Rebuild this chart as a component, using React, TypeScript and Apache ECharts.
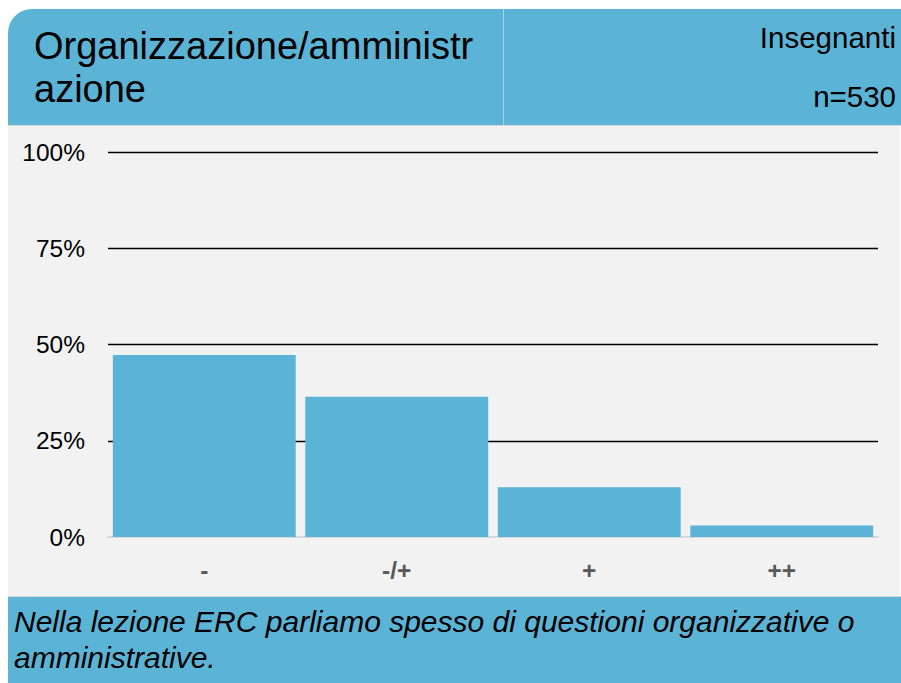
import React, { useEffect, useRef } from "react";
import * as echarts from "echarts";

const categories: string[] = ["-", "-/+", "+", "++"];
const values: number[] = [47.3, 36.4, 12.9, 3.0];
const yTicks: number[] = [0, 25, 50, 75, 100];
const titleLines: string[] = ["Organizzazione/amministr", "azione"];
const groupLabel = "Insegnanti";
const sampleLabel = "n=530";
const footerLines: string[] = [
  "Nella lezione ERC parliamo spesso di questioni organizzative o",
  "amministrative.",
];

const BLUE = "#5BB3D6";
const GREY = "#F2F2F2";
const FONT = '"Liberation Sans", Arial, sans-serif';

export default function App() {
  const ref = useRef<HTMLDivElement>(null);

  useEffect(() => {
    if (!ref.current) return;
    const chart = echarts.init(ref.current, null, { renderer: "svg" });
    const option: any = {
      animation: false,
      backgroundColor: "#ffffff",
      grid: { left: 108, right: 23, top: 152, bottom: 146, containLabel: false },
      xAxis: {
        type: "category",
        data: categories,
        axisLine: { show: true, lineStyle: { color: "#D9D9D9", width: 2 } },
        axisTick: { show: false },
        axisLabel: {
          margin: 21,
          fontSize: 24.5,
          fontWeight: "bold",
          color: "#595959",
          fontFamily: FONT,
        },
      },
      yAxis: {
        type: "value",
        min: yTicks[0],
        max: yTicks[yTicks.length - 1],
        interval: 25,
        axisLine: { show: false },
        axisTick: { show: false },
        axisLabel: {
          margin: 23,
          fontSize: 24.5,
          color: "#000000",
          fontFamily: FONT,
          formatter: (v: number) => `${v}%`,
        },
        splitLine: {
          show: true,
          lineStyle: {
            color: ["transparent", "#000000", "#000000", "#000000", "#000000"],
            width: 1.4,
          },
        },
      },
      series: [
        {
          type: "bar",
          data: values,
          barCategoryGap: "5%",
          itemStyle: { color: BLUE },
          z: 3,
        },
      ],
      graphic: [
        {
          type: "rect",
          z: -10,
          shape: { x: 8, y: 125, width: 892, height: 472 },
          style: { fill: GREY },
        },
        {
          type: "rect",
          z: -10,
          shape: { x: 8, y: 9, width: 893, height: 116, r: [24, 0, 0, 0] },
          style: { fill: BLUE },
        },
        {
          type: "line",
          z: -9,
          shape: { x1: 503.5, y1: 9, x2: 503.5, y2: 125 },
          style: { stroke: "#A8D6EB", lineWidth: 1 },
        },
        {
          type: "line",
          z: -9,
          shape: { x1: 8, y1: 125.5, x2: 901, y2: 125.5 },
          style: { stroke: "#D6D6D6", lineWidth: 1 },
        },
        {
          type: "rect",
          z: -10,
          shape: { x: 8, y: 597, width: 893, height: 86 },
          style: { fill: BLUE },
        },
        {
          type: "line",
          z: -9,
          shape: { x1: 8, y1: 596.5, x2: 901, y2: 596.5 },
          style: { stroke: "#D6D6D6", lineWidth: 1 },
        },
        {
          type: "text",
          z: 10,
          x: 34,
          y: 45.8,
          style: {
            text: titleLines[0],
            fill: "#000",
            font: `38px ${FONT}`,
            textAlign: "left",
            textVerticalAlign: "middle",
          },
        },
        {
          type: "text",
          z: 10,
          x: 34,
          y: 88.5,
          style: {
            text: titleLines[1],
            fill: "#000",
            font: `38px ${FONT}`,
            textAlign: "left",
            textVerticalAlign: "middle",
          },
        },
        {
          type: "text",
          z: 10,
          x: 896,
          y: 37.6,
          style: {
            text: groupLabel,
            fill: "#000",
            font: `29.5px ${FONT}`,
            textAlign: "right",
            textVerticalAlign: "middle",
          },
        },
        {
          type: "text",
          z: 10,
          x: 896,
          y: 96.6,
          style: {
            text: sampleLabel,
            fill: "#000",
            font: `29.5px ${FONT}`,
            textAlign: "right",
            textVerticalAlign: "middle",
          },
        },
        {
          type: "text",
          z: 10,
          x: 14,
          y: 621.6,
          style: {
            text: footerLines[0],
            fill: "#000",
            font: `italic 30px ${FONT}`,
            textAlign: "left",
            textVerticalAlign: "middle",
          },
        },
        {
          type: "text",
          z: 10,
          x: 14,
          y: 657.6,
          style: {
            text: footerLines[1],
            fill: "#000",
            font: `italic 30px ${FONT}`,
            textAlign: "left",
            textVerticalAlign: "middle",
          },
        },
      ],
    };
    chart.setOption(option);
    return () => {
      chart.dispose();
    };
  }, []);

  return (
    <div
      ref={ref}
      style={{ position: "fixed", left: 0, top: 0, width: 901, height: 683 }}
    />
  );
}
